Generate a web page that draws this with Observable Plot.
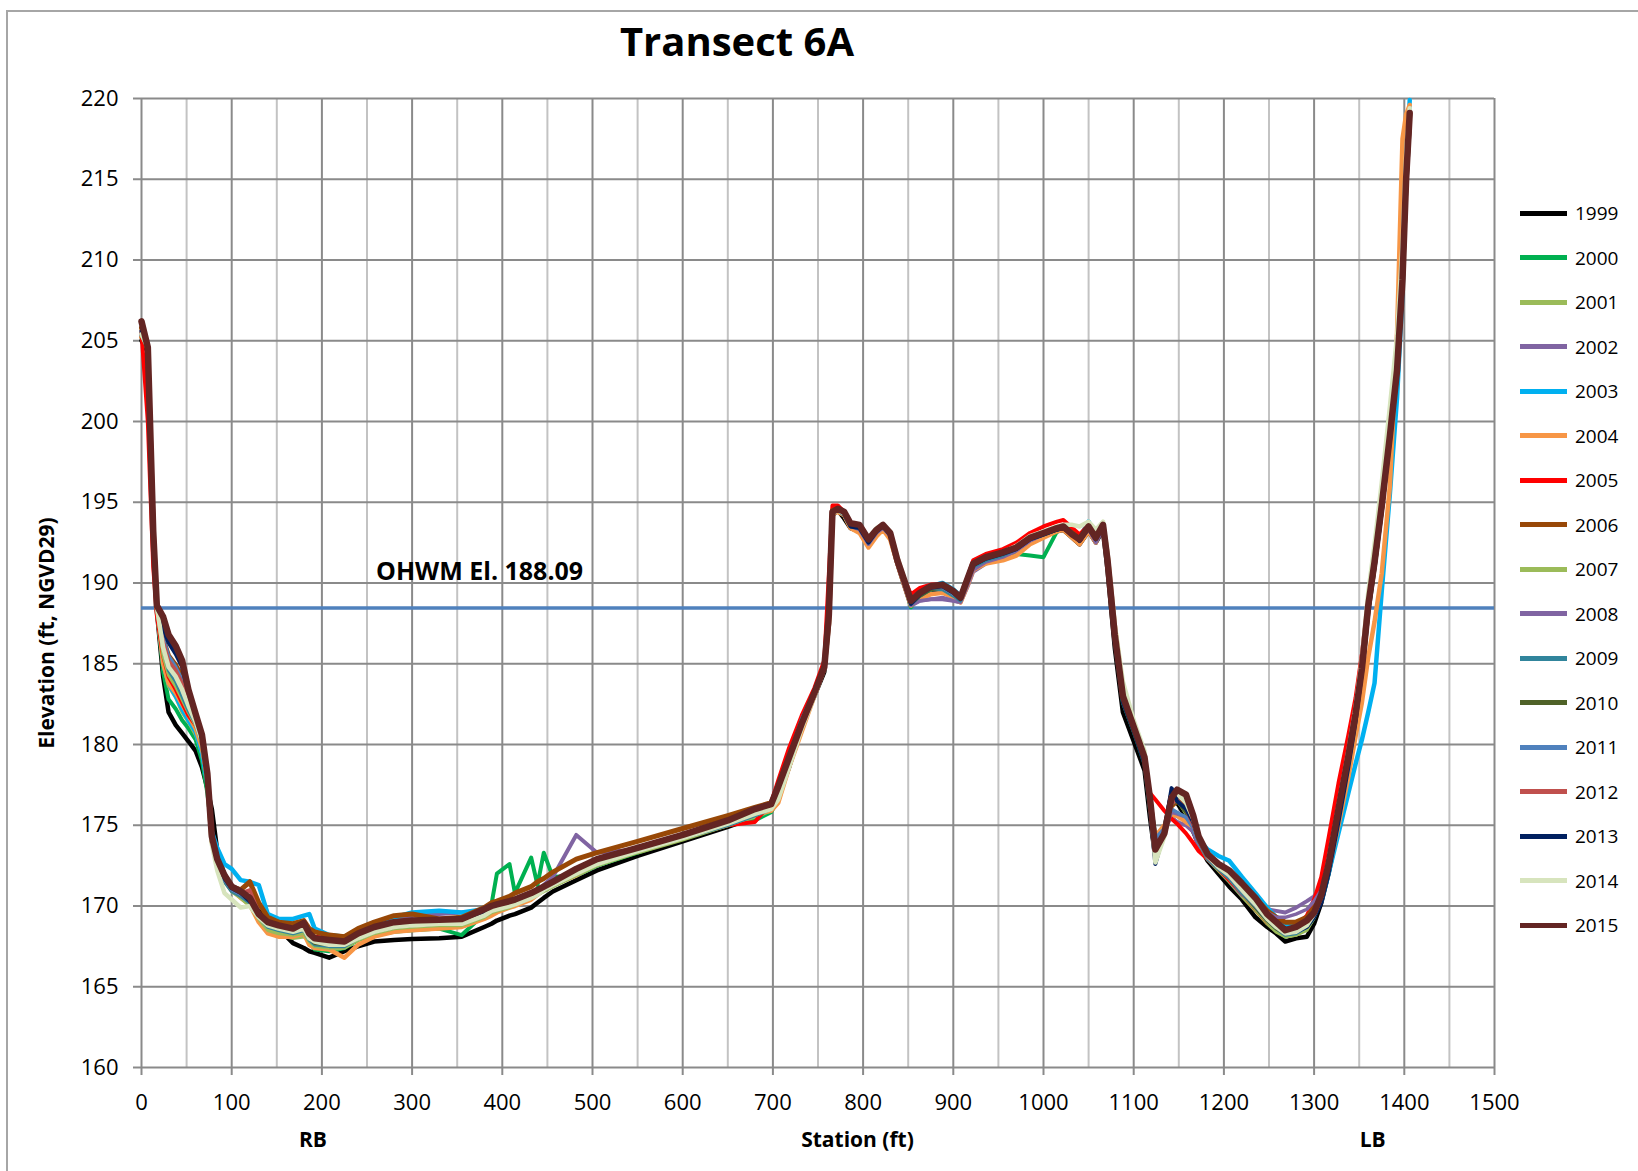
<!DOCTYPE html>
<html>
<head>
<meta charset="utf-8">
<script src="https://cdn.jsdelivr.net/npm/d3@7"></script>
<script src="https://cdn.jsdelivr.net/npm/@observablehq/plot@0.6"></script>
<style>
  html, body { margin: 0; padding: 0; background: #fff; overflow: hidden; }
  #wrap { position: relative; width: 1638px; height: 1171px; font-family: 'Open Sans', sans-serif; }
  #border { position: absolute; left: 6px; top: 10px; width: 1700px; height: 1300px;
            border-left: 2px solid #a6a6a6; border-top: 2px solid #a6a6a6; }
  #chart { position: absolute; left: 0; top: 0; }
  .lg-sw { position: absolute; left: 1520px; width: 47px; height: 5px; }
  .lg-tx { position: absolute; left: 1575px; font-size: 19px; line-height: 24px; color: #000; }
</style>
</head>
<body>
<div id="wrap"><div id="border"></div><div id="chart"></div><div id="legend"></div></div>
<script>
// ---------------- DATA ----------------
const stations = [
  0, 7, 13, 17, 24, 30, 38, 45, 52, 60,
  67, 73, 78, 84, 92, 100, 110, 120, 130, 140,
  152, 168, 180, 186, 192, 208, 225, 240, 258, 280,
  300, 330, 355, 380, 388, 394, 408, 414, 432, 439,
  446, 456, 482, 505, 550, 600, 650, 680, 698, 706,
  718, 732, 746, 757, 762, 766, 772, 779, 786, 796,
  806, 815, 822, 830, 838, 846, 853, 863, 875, 888,
  900, 908, 916, 922, 936, 955, 970, 985, 1000, 1015,
  1022, 1032, 1040, 1050, 1058, 1066, 1071, 1079, 1088, 1100,
  1112, 1118, 1124, 1134, 1142, 1148, 1158, 1166, 1172, 1182,
  1194, 1206, 1220, 1235, 1248, 1258, 1268, 1280, 1292, 1300,
  1308, 1316, 1327, 1338, 1346, 1353, 1360, 1367, 1375, 1384,
  1392, 1398, 1402, 1406
];

const years = [1999, 2000, 2001, 2002, 2003, 2004, 2005, 2006, 2007, 2008, 2009, 2010, 2011, 2012, 2013, 2014, 2015];

const elev1999 = [
  205.0, 204.3, 193.0, 188.3, 184.2, 182.0, 181.2, 180.7, 180.2, 179.6,
  178.6, 177.3, 176.0, 173.4, 171.8, 171.0, 170.6, 170.2, 169.7, 169.1,
  168.6, 167.7, 167.4, 167.2, 167.1, 166.8, 167.2, 167.5, 167.8, 167.9,
  167.95, 168.0, 168.1, 168.7, 168.9, 169.1, 169.4, 169.5, 169.9, 170.2,
  170.5, 170.9, 171.6, 172.2, 173.1, 174.0, 174.9, 175.5, 176.0, 176.8,
  178.6, 181.2, 183.0, 184.5, 189.0, 194.2, 194.5, 194.0, 193.4, 193.2,
  192.3, 193.0, 193.4, 192.9, 191.2, 189.8, 188.6, 189.1, 189.4, 189.5,
  189.2, 188.9, 190.0, 191.0, 191.3, 191.6, 192.0, 192.5, 192.9, 193.2,
  193.3, 192.8, 192.4, 193.2, 192.5, 193.3, 190.8, 186.0, 182.0, 180.2,
  178.4, 175.5, 173.0, 174.8, 177.0, 176.4, 175.5, 174.6, 173.8, 172.8,
  172.0, 171.2, 170.4, 169.3, 168.7, 168.3, 167.8, 168.0, 168.1, 168.9,
  170.2, 172.0, 175.0, 178.5, 181.3, 184.3, 188.2, 191.0, 194.5, 199.0,
  203.0, 208.5, 214.5, 218.5
];
const elev2000 = [
  205.2, 204.5, 193.3, 188.4, 184.5, 182.8, 182.2, 181.5, 181.0, 180.3,
  179.0, 177.0, 174.6, 173.2, 172.0, 171.2, 170.8, 170.3, 169.5, 168.6,
  168.3, 168.2, 168.3, 167.8, 167.3, 167.2, 167.4, 167.9, 168.2, 168.4,
  168.5, 168.6, 168.2, 169.5, 170.1, 172.0, 172.6, 170.8, 173.0, 171.3,
  173.3, 171.8, 171.9, 172.5, 173.3, 174.2, 175.0, 175.3, 175.8, 176.6,
  178.8, 181.2, 183.1, 184.8, 188.0, 194.5, 194.5, 194.2, 193.5, 193.4,
  192.5, 193.1, 193.5, 193.0, 191.3, 189.9, 188.5, 189.2, 189.6, 189.7,
  189.3, 189.0, 190.1, 191.1, 191.4, 191.7, 191.8, 191.7, 191.6, 193.2,
  193.4, 193.0, 192.6, 193.4, 192.6, 193.5, 191.0, 186.4, 182.6, 180.8,
  178.8, 176.0, 173.4, 174.8, 176.6, 176.6, 175.8, 175.0, 174.0, 172.9,
  172.3, 171.6, 170.7, 169.8, 169.0, 168.5, 168.1, 168.3, 168.6, 169.3,
  170.4, 172.3, 175.5, 178.8, 181.5, 184.5, 188.4, 191.2, 194.6, 199.0,
  203.1, 208.6, 214.8, 218.8
];
const elev2001 = [
  205.3, 204.5, 193.2, 188.5, 185.0, 183.6, 182.9, 182.0, 181.4, 180.6,
  179.4, 177.5, 174.5, 173.2, 172.0, 171.2, 170.7, 170.2, 169.4, 168.5,
  168.2, 168.0, 168.1, 167.9, 167.4, 167.3, 167.4, 167.9, 168.3, 168.5,
  168.6, 168.7, 168.8, 169.3, 169.6, 169.8, 170.0, 170.1, 170.5, 170.7,
  171.0, 171.3, 172.0, 172.6, 173.4, 174.2, 175.0, 175.5, 175.9, 176.8,
  178.9, 181.2, 183.1, 184.7, 188.0, 194.4, 194.5, 194.2, 193.5, 193.4,
  192.5, 193.2, 193.5, 193.0, 191.3, 189.9, 188.6, 189.2, 189.6, 189.7,
  189.3, 189.0, 190.2, 191.1, 191.5, 191.8, 192.1, 192.6, 193.0, 193.3,
  193.4, 193.0, 192.6, 193.4, 192.7, 193.5, 191.0, 186.4, 182.6, 180.8,
  178.9, 176.2, 173.3, 174.6, 176.5, 176.6, 175.7, 174.9, 173.9, 172.9,
  172.2, 171.5, 170.6, 169.7, 168.9, 168.4, 168.1, 168.2, 168.5, 169.3,
  170.4, 172.4, 175.6, 178.9, 181.6, 184.6, 188.5, 191.3, 194.7, 199.1,
  203.2, 208.7, 215.0, 219.0
];
const elev2002 = [
  205.4, 204.6, 193.5, 188.6, 185.2, 184.0, 183.2, 182.4, 181.6, 180.8,
  179.6, 177.8, 174.2, 172.8, 171.6, 171.0, 170.6, 170.4, 169.5, 168.9,
  168.6, 168.5, 168.6, 168.0, 167.6, 167.5, 167.6, 168.2, 169.0, 169.2,
  169.4, 169.5, 169.6, 169.7, 169.8, 169.9, 170.1, 170.2, 170.6, 170.9,
  171.3, 171.8, 174.4, 173.3, 173.5, 174.3, 175.1, 175.7, 176.1, 177.0,
  179.6, 181.6, 183.3, 184.9, 188.5, 194.4, 194.5, 194.2, 193.5, 193.3,
  192.4, 193.1, 193.4, 192.9, 191.2, 189.8, 188.6, 188.9, 189.0, 189.0,
  188.9, 188.8, 189.8, 190.7, 191.2, 191.6, 192.0, 192.6, 193.0, 193.3,
  193.4, 193.0, 192.6, 193.4, 192.6, 193.3, 191.0, 186.5, 182.8, 181.0,
  178.9, 176.3, 174.0, 174.8, 175.5, 175.2, 175.0, 174.6, 173.7, 172.9,
  172.3, 171.6, 170.7, 170.2, 169.8, 169.7, 169.6, 169.9, 170.3, 170.6,
  171.2, 172.8, 175.8, 179.0, 181.6, 184.6, 188.4, 191.3, 194.7, 199.1,
  203.2, 208.8, 215.2, 219.3
];
const elev2003 = [
  205.3, 204.6, 193.4, 188.5, 185.0, 183.8, 183.0, 182.2, 181.5, 180.8,
  179.5, 177.6, 174.6, 173.6, 172.6, 172.3, 171.6, 171.5, 171.3, 169.5,
  169.2, 169.2, 169.4, 169.5, 168.6, 168.2, 168.1, 168.5, 168.9, 169.3,
  169.6, 169.7, 169.6, 169.8, 170.0, 170.1, 170.3, 170.4, 170.7, 170.9,
  171.1, 171.4, 172.1, 172.7, 173.4, 174.2, 175.1, 175.7, 176.1, 177.0,
  179.1, 181.3, 183.2, 184.8, 188.5, 194.5, 194.6, 194.3, 193.6, 193.5,
  192.6, 193.2, 193.5, 193.0, 191.3, 190.0, 188.8, 189.3, 189.8, 190.0,
  189.6, 189.2, 190.3, 191.1, 191.5, 191.8, 192.1, 192.7, 193.0, 193.3,
  193.4, 193.1, 192.8, 193.8, 193.0, 193.7, 191.5, 187.2, 183.4, 181.3,
  179.1, 176.5, 174.3, 174.9, 175.9, 175.6, 175.3, 174.9, 174.1, 173.5,
  173.1, 172.8, 171.8, 170.8, 169.9, 169.3, 168.8, 168.9, 169.2, 169.6,
  170.3, 172.0, 174.5, 177.0, 178.8, 180.3, 182.0, 183.8, 189.5, 195.5,
  201.5, 208.0, 215.5, 219.9
];
const elev2004 = [
  205.2, 204.5, 193.2, 188.4, 185.0, 183.8, 183.2, 182.5, 181.8, 181.0,
  179.8, 178.0, 174.0, 172.8, 171.8, 171.0, 170.5, 170.1, 169.0, 168.3,
  168.1, 168.1, 168.3, 167.6, 167.4, 167.3, 166.8, 167.6, 168.1, 168.4,
  168.5, 168.6, 168.7, 169.2, 169.4, 169.6, 169.9, 170.0, 170.4, 170.7,
  171.0, 171.3, 171.9, 172.6, 173.4, 174.3, 175.2, 175.7, 175.9, 176.4,
  178.6, 180.8, 183.0, 184.7, 188.0, 194.3, 194.4, 194.2, 193.4, 193.1,
  192.2, 192.9, 193.3, 192.7, 191.2, 189.8, 188.6, 189.0, 189.3, 189.4,
  189.1, 188.8, 189.9, 190.8, 191.2, 191.4, 191.7, 192.4, 192.8, 193.2,
  193.3, 192.8, 192.4, 193.2, 192.5, 193.7, 191.8, 187.4, 183.6, 181.3,
  179.2, 176.2, 174.3, 175.0, 175.6, 175.6, 175.2, 174.9, 174.3, 173.3,
  172.6, 172.1, 171.2, 170.3, 169.4, 168.9, 168.4, 168.5, 168.8, 169.4,
  170.5, 172.2, 175.0, 178.0, 180.5, 182.6, 185.4, 187.6, 190.6, 196.0,
  205.5, 217.5, 219.0, 219.6
];
const elev2005 = [
  205.5, 200.0, 191.0, 188.0, 185.5, 184.2, 183.4, 182.6, 181.8, 181.2,
  180.3, 178.4, 174.4, 173.0, 171.9, 171.1, 170.7, 170.2, 169.3, 168.8,
  168.6, 168.4, 168.6, 168.1, 168.1, 168.0, 167.9, 168.2, 168.5, 168.8,
  168.9, 169.0, 169.0, 169.4, 169.7, 169.9, 170.1, 170.2, 170.6, 170.8,
  171.1, 171.4, 172.1, 172.7, 173.4, 174.2, 175.0, 175.2, 176.4, 177.8,
  179.8, 181.8, 183.5, 185.2, 190.5, 194.8, 194.8, 194.4, 193.6, 193.5,
  192.6, 193.3, 193.6, 193.1, 191.5, 190.2, 189.3, 189.7, 189.9, 189.9,
  189.5, 189.2, 190.4, 191.4, 191.8, 192.1, 192.5, 193.1, 193.5, 193.8,
  193.9, 193.4, 193.0, 193.6, 192.8, 193.4, 191.2, 186.6, 183.0, 181.0,
  179.0, 177.0, 176.6, 175.9, 175.4, 175.1, 174.5, 173.9, 173.4, 172.9,
  172.3, 171.6, 170.8, 169.8, 169.0, 168.6, 168.4, 168.8, 169.4, 170.4,
  171.8, 174.2, 177.6, 180.6, 182.9, 185.6, 189.0, 191.8, 195.0, 199.2,
  203.3, 208.9, 215.0, 219.0
];
const elev2006 = [
  205.8, 204.4, 193.3, 188.5, 186.5, 185.5, 184.9, 184.2, 182.9, 181.6,
  180.3, 178.0, 174.0, 172.8, 171.8, 171.2, 171.0, 171.5, 170.2, 169.3,
  169.0, 168.9, 169.1, 168.6, 168.4, 168.2, 168.1, 168.6, 169.0, 169.4,
  169.5, 169.2, 169.3, 169.9, 170.2, 170.3, 170.6, 170.8, 171.2, 171.5,
  171.7, 172.1, 172.9, 173.3, 174.0, 174.8, 175.6, 176.1, 176.4, 177.3,
  179.3, 181.3, 183.2, 184.8, 187.5, 194.5, 194.6, 194.3, 193.6, 193.5,
  192.6, 193.2, 193.5, 193.1, 191.4, 190.1, 188.9, 189.4, 189.8, 189.8,
  189.4, 189.1, 190.3, 191.2, 191.6, 191.8, 192.2, 192.8, 193.1, 193.4,
  193.5, 193.1, 192.7, 193.5, 192.9, 193.6, 191.3, 186.7, 183.2, 181.1,
  179.1, 176.6, 174.0, 174.5, 176.2, 176.5, 176.2, 175.3, 174.2, 173.2,
  172.6, 172.2, 171.3, 170.5, 169.7, 169.3, 169.0, 169.0, 169.3, 169.9,
  170.8, 172.6, 175.8, 179.1, 181.8, 184.6, 188.5, 191.2, 194.7, 199.0,
  203.1, 208.7, 215.0, 219.0
];
const elev2007 = [
  205.3, 204.5, 193.3, 188.5, 185.5, 184.3, 183.6, 182.8, 182.0, 181.2,
  180.0, 177.8, 174.0, 172.6, 171.5, 170.9, 170.5, 170.0, 169.2, 168.5,
  168.3, 168.2, 168.3, 167.8, 167.5, 167.4, 167.5, 167.9, 168.3, 168.6,
  168.7, 168.8, 168.8, 169.3, 169.6, 169.7, 169.9, 170.1, 170.5, 170.7,
  170.9, 171.2, 171.9, 172.5, 173.3, 174.1, 175.0, 175.6, 176.0, 177.0,
  179.0, 181.2, 183.1, 184.7, 188.0, 194.4, 194.5, 194.2, 193.5, 193.4,
  192.5, 193.2, 193.5, 193.0, 191.3, 189.9, 188.6, 189.2, 189.6, 189.7,
  189.3, 189.0, 190.2, 191.1, 191.5, 191.8, 192.1, 192.7, 193.0, 193.3,
  193.4, 193.0, 192.6, 193.4, 192.7, 193.5, 191.1, 186.5, 182.8, 180.9,
  179.0, 176.3, 173.4, 174.6, 176.4, 176.6, 175.8, 174.9, 173.9, 172.9,
  172.3, 171.7, 170.8, 169.8, 169.0, 168.5, 168.1, 168.2, 168.6, 169.3,
  170.5, 172.4, 175.6, 178.9, 181.6, 184.6, 188.5, 191.3, 194.7, 199.1,
  203.2, 208.7, 215.0, 219.0
];
const elev2008 = [
  205.4, 204.5, 193.4, 188.5, 186.0, 184.8, 184.0, 183.2, 182.2, 181.3,
  180.1, 178.0, 174.1, 172.7, 171.6, 171.0, 170.6, 170.3, 169.4, 168.8,
  168.6, 168.4, 168.6, 168.0, 167.7, 167.6, 167.6, 168.1, 168.6, 169.0,
  169.1, 169.1, 169.2, 169.6, 169.8, 169.9, 170.1, 170.2, 170.6, 170.8,
  171.0, 171.3, 172.1, 172.7, 173.5, 174.3, 175.1, 175.7, 176.1, 177.1,
  179.4, 181.5, 183.2, 184.8, 188.0, 194.4, 194.5, 194.2, 193.5, 193.3,
  192.4, 193.1, 193.4, 192.9, 191.2, 189.8, 188.6, 188.9, 189.0, 189.1,
  188.9, 188.8, 189.9, 190.8, 191.3, 191.6, 192.0, 192.6, 193.0, 193.3,
  193.4, 193.0, 192.6, 193.3, 192.5, 193.3, 191.0, 186.5, 182.9, 181.0,
  179.0, 176.3, 173.8, 174.7, 175.8, 175.7, 175.5, 174.9, 174.0, 173.1,
  172.5, 172.0, 171.1, 170.3, 169.6, 169.3, 169.3, 169.5, 169.8, 170.3,
  171.0, 172.8, 175.8, 179.0, 181.6, 184.6, 188.4, 191.2, 194.7, 199.1,
  203.2, 208.8, 215.1, 219.2
];
const elev2009 = [
  205.5, 204.5, 193.4, 188.5, 186.0, 184.6, 183.9, 183.0, 182.1, 181.3,
  180.1, 178.0, 174.0, 172.6, 171.5, 170.9, 170.6, 170.2, 169.3, 168.7,
  168.5, 168.3, 168.5, 167.9, 167.6, 167.5, 167.5, 168.0, 168.4, 168.7,
  168.8, 168.9, 168.9, 169.4, 169.7, 169.8, 170.0, 170.1, 170.5, 170.7,
  171.0, 171.3, 172.0, 172.6, 173.4, 174.2, 175.0, 175.6, 176.0, 177.0,
  179.1, 181.3, 183.1, 184.7, 188.2, 194.4, 194.5, 194.2, 193.5, 193.4,
  192.5, 193.2, 193.5, 193.0, 191.3, 190.0, 188.7, 189.2, 189.6, 189.6,
  189.2, 188.9, 190.1, 191.0, 191.4, 191.7, 192.1, 192.7, 193.0, 193.3,
  193.4, 193.0, 192.6, 193.5, 192.7, 193.4, 191.1, 186.5, 182.9, 180.9,
  178.9, 176.3, 173.4, 174.6, 176.4, 176.6, 175.8, 174.9, 173.9, 172.9,
  172.3, 171.7, 170.8, 169.9, 169.1, 168.6, 168.2, 168.3, 168.7, 169.4,
  170.5, 172.4, 175.6, 178.9, 181.6, 184.6, 188.5, 191.3, 194.7, 199.1,
  203.2, 208.7, 215.0, 219.0
];
const elev2010 = [
  205.5, 204.6, 193.5, 188.5, 186.3, 184.9, 184.3, 183.5, 182.4, 181.4,
  180.2, 178.0, 174.1, 172.7, 171.6, 171.0, 170.7, 170.3, 169.3, 168.8,
  168.6, 168.4, 168.6, 168.0, 167.7, 167.6, 167.6, 168.0, 168.4, 168.7,
  168.8, 168.9, 168.9, 169.5, 169.8, 169.9, 170.1, 170.2, 170.6, 170.8,
  171.0, 171.3, 172.1, 172.7, 173.5, 174.3, 175.1, 175.7, 176.1, 177.1,
  179.2, 181.3, 183.2, 184.8, 188.0, 194.4, 194.5, 194.3, 193.6, 193.4,
  192.6, 193.2, 193.5, 193.0, 191.3, 190.0, 188.7, 189.2, 189.6, 189.7,
  189.3, 189.0, 190.2, 191.1, 191.5, 191.8, 192.1, 192.7, 193.0, 193.3,
  193.4, 193.0, 192.6, 193.4, 192.7, 193.5, 191.2, 187.0, 183.4, 181.1,
  179.1, 176.4, 173.6, 174.6, 176.3, 176.5, 175.8, 174.9, 174.0, 173.0,
  172.4, 171.8, 170.9, 169.9, 169.1, 168.6, 168.3, 168.4, 168.8, 169.5,
  170.6, 172.5, 175.7, 179.0, 181.7, 184.7, 188.5, 191.3, 194.7, 199.1,
  203.2, 208.7, 215.0, 219.0
];
const elev2011 = [
  205.6, 204.6, 193.6, 188.5, 186.6, 185.5, 184.8, 184.0, 182.8, 181.6,
  180.4, 178.1, 174.0, 172.6, 171.6, 171.0, 170.7, 170.3, 169.4, 168.9,
  168.7, 168.5, 168.7, 168.1, 167.8, 167.7, 167.7, 168.1, 168.5, 168.8,
  168.9, 169.0, 169.0, 169.5, 169.8, 169.9, 170.1, 170.2, 170.6, 170.8,
  171.1, 171.4, 172.1, 172.7, 173.5, 174.3, 175.1, 175.7, 176.1, 177.2,
  179.2, 181.6, 183.3, 184.9, 188.0, 194.4, 194.5, 194.3, 193.6, 193.4,
  192.6, 193.2, 193.5, 193.0, 191.3, 190.0, 188.7, 189.3, 189.7, 189.7,
  189.3, 189.0, 190.2, 191.1, 191.5, 191.8, 192.1, 192.7, 193.0, 193.3,
  193.4, 193.0, 192.6, 193.4, 192.7, 193.5, 191.2, 187.0, 183.4, 181.1,
  179.1, 176.4, 174.2, 174.8, 176.0, 175.8, 175.5, 174.8, 173.9, 173.0,
  172.4, 171.8, 170.9, 170.0, 169.2, 168.8, 168.5, 168.6, 168.9, 169.5,
  170.6, 172.5, 175.7, 179.0, 181.7, 184.7, 188.5, 191.3, 194.7, 199.1,
  203.2, 208.7, 215.0, 219.0
];
const elev2012 = [
  205.6, 204.6, 193.5, 188.5, 186.4, 185.2, 184.6, 183.8, 182.7, 181.6,
  180.4, 178.1, 174.2, 172.8, 171.7, 171.1, 170.8, 171.0, 169.6, 169.0,
  168.8, 168.6, 168.8, 168.1, 167.9, 167.8, 167.8, 168.1, 168.5, 168.8,
  168.9, 169.0, 169.0, 169.6, 169.8, 169.9, 170.1, 170.2, 170.6, 170.8,
  171.1, 171.4, 172.1, 172.7, 173.5, 174.3, 175.1, 175.8, 176.2, 177.3,
  179.3, 181.4, 183.3, 184.9, 188.0, 194.5, 194.6, 194.3, 193.6, 193.5,
  192.6, 193.2, 193.5, 193.0, 191.3, 190.0, 188.8, 189.3, 189.7, 189.8,
  189.4, 189.1, 190.2, 191.2, 191.6, 191.8, 192.2, 192.8, 193.1, 193.4,
  193.5, 193.0, 192.7, 193.5, 192.8, 193.6, 191.3, 186.8, 183.2, 181.1,
  179.1, 176.5, 173.6, 174.4, 176.3, 176.6, 176.0, 175.0, 174.0, 173.0,
  172.4, 171.9, 171.0, 170.1, 169.3, 168.8, 168.4, 168.6, 169.0, 169.6,
  170.7, 172.6, 175.8, 179.1, 181.7, 184.7, 188.5, 191.3, 194.8, 199.1,
  203.2, 208.8, 215.0, 219.0
];
const elev2013 = [
  205.6, 204.5, 193.4, 188.5, 187.2, 186.3, 185.6, 184.8, 183.2, 181.8,
  180.5, 178.2, 174.0, 172.7, 171.7, 171.1, 170.8, 170.3, 169.4, 168.9,
  168.7, 168.5, 168.8, 168.1, 167.9, 167.8, 167.7, 168.2, 168.6, 168.9,
  169.0, 169.0, 169.1, 169.6, 169.9, 170.0, 170.2, 170.3, 170.7, 170.9,
  171.1, 171.4, 172.2, 172.8, 173.6, 174.4, 175.2, 175.8, 176.2, 177.0,
  178.8, 181.1, 183.1, 184.8, 188.0, 194.4, 194.5, 194.3, 193.5, 193.4,
  192.5, 193.2, 193.5, 193.0, 191.3, 190.0, 188.7, 189.3, 189.7, 189.8,
  189.4, 189.0, 190.2, 191.1, 191.5, 191.8, 192.1, 192.7, 193.0, 193.3,
  193.4, 193.0, 192.6, 193.4, 192.7, 193.5, 191.0, 186.3, 182.6, 180.8,
  178.8, 176.0, 172.6, 174.6, 177.3, 176.5, 176.0, 175.2, 174.1, 173.1,
  172.5, 172.0, 171.0, 170.1, 169.2, 168.7, 168.3, 168.4, 168.7, 169.3,
  170.2, 172.0, 175.2, 178.6, 181.4, 184.5, 188.5, 191.3, 194.7, 199.2,
  203.4, 209.0, 215.2, 219.2
];
const elev2014 = [
  205.4, 204.6, 193.4, 188.5, 186.0, 184.8, 184.2, 183.4, 182.4, 181.4,
  180.2, 177.8, 173.8, 172.2, 170.8, 170.4, 169.9, 170.0, 169.3, 168.8,
  168.6, 168.4, 168.6, 168.0, 167.8, 167.6, 167.6, 168.0, 168.4, 168.7,
  168.8, 168.9, 168.9, 169.4, 169.7, 169.8, 170.0, 170.1, 170.5, 170.7,
  171.0, 171.3, 172.0, 172.6, 173.4, 174.2, 175.1, 175.7, 176.0, 176.6,
  178.6, 181.0, 183.0, 184.7, 188.0, 194.3, 194.5, 194.3, 193.7, 193.6,
  192.8, 193.4, 193.6, 193.2, 191.6, 190.2, 189.0, 189.4, 189.8, 189.9,
  189.5, 189.1, 190.3, 191.2, 191.6, 191.9, 192.3, 192.9, 193.2, 193.5,
  193.6, 193.6, 193.5, 193.8, 193.3, 193.8, 191.8, 187.4, 183.9, 181.5,
  179.6, 176.6, 172.7, 174.3, 176.8, 177.0, 176.4, 175.4, 174.2, 173.1,
  172.4, 171.9, 171.0, 170.1, 169.2, 168.7, 168.3, 168.4, 168.8, 169.5,
  170.6, 172.8, 176.2, 179.6, 182.3, 185.3, 189.4, 192.4, 196.2, 200.9,
  205.3, 211.0, 216.5, 219.4
];
const elev2015 = [
  206.2, 204.6, 193.2, 188.6, 187.9, 186.8, 186.1, 185.2, 183.4, 181.9,
  180.6, 178.2, 174.3, 172.9, 171.9, 171.2, 170.9, 170.5, 169.5, 169.0,
  168.8, 168.6, 168.95, 168.3, 168.0, 167.9, 167.8, 168.3, 168.7, 169.0,
  169.1, 169.15, 169.2, 169.8, 170.0, 170.1, 170.3, 170.4, 170.8, 171.0,
  171.2, 171.5, 172.3, 172.9, 173.6, 174.4, 175.3, 176.0, 176.3, 177.4,
  179.2, 181.3, 183.2, 184.8, 188.0, 194.4, 194.6, 194.4, 193.7, 193.6,
  192.7, 193.3, 193.6, 193.1, 191.4, 190.1, 188.9, 189.4, 189.8, 189.9,
  189.5, 189.1, 190.3, 191.2, 191.6, 191.9, 192.2, 192.8, 193.1, 193.4,
  193.5, 193.0, 192.7, 193.5, 192.8, 193.6, 191.4, 186.8, 183.0, 181.1,
  179.2, 176.7, 173.5, 174.5, 176.7, 177.2, 176.9, 175.6, 174.3, 173.2,
  172.6, 172.2, 171.4, 170.5, 169.5, 169.0, 168.5, 168.7, 169.1, 169.6,
  170.7, 172.6, 176.0, 179.3, 181.9, 184.7, 188.6, 191.3, 194.8, 199.1,
  203.2, 208.8, 215.0, 219.1
];

const series = [elev1999, elev2000, elev2001, elev2002, elev2003, elev2004, elev2005, elev2006,
  elev2007, elev2008, elev2009, elev2010, elev2011, elev2012, elev2013, elev2014, elev2015];

const xTicks = [0, 100, 200, 300, 400, 500, 600, 700, 800, 900, 1000, 1100, 1200, 1300, 1400, 1500];
const xMinor = [50, 150, 250, 350, 450, 550, 650, 750, 850, 950, 1050, 1150, 1250, 1350, 1450];
const yTicks = [160, 165, 170, 175, 180, 185, 190, 195, 200, 205, 210, 215, 220];

const ohwmLabel = "OHWM El. 188.09";
const ohwmLine = 188.45;   // level at which the reference draws its OHWM line

// ---------------- STYLES ----------------
const colors = ["#000000", "#00b050", "#9bbb59", "#8064a2", "#00b0f0", "#f79646", "#ff0000", "#984807",
  "#9bbb59", "#8064a2", "#31859c", "#4f6228", "#4f81bd", "#c0504d", "#002060", "#d7e4bd", "#632523"];
const widths = [4.5, 4, 3.5, 4, 4.5, 4.5, 4, 5, 3.5, 3.5, 3.5, 3.5, 3.5, 3.5, 4, 4.5, 6.5];

// ---------------- BUILD ----------------
const bad = series.map((s, i) => s.length !== stations.length ? years[i] + ":" + s.length : null).filter(Boolean);
if (bad.length) throw new Error("length mismatch " + bad.join(", ") + " vs " + stations.length);

const rows = years.map((yr, i) => stations.map((s, j) => ({year: yr, station: s, elevation: series[i][j]})));

const gridDark = "#8a8a8a", gridLight = "#c3c3c3";

const chart = Plot.plot({
  width: 1638, height: 1171,
  marginLeft: 141, marginRight: 144, marginTop: 98, marginBottom: 104,
  x: {domain: [0, 1500]},
  y: {domain: [160, 220]},
  style: {fontFamily: "'Open Sans', sans-serif", fontSize: "22px", color: "#000", background: "transparent", overflow: "visible"},
  marks: [
    Plot.ruleX(xMinor, {stroke: gridLight, strokeWidth: 2}),
    Plot.ruleX(xTicks, {stroke: gridDark, strokeWidth: 2}),
    Plot.ruleY(yTicks, {stroke: gridDark, strokeWidth: 2}),
    Plot.axisX({ticks: xTicks, tickSize: 8, tickPadding: 19, stroke: gridDark, strokeWidth: 2, fill: "#000",
      fontSize: 22, label: null, tickFormat: d => String(d)}),
    Plot.axisY({ticks: yTicks, tickSize: 8, tickPadding: 15, stroke: gridDark, strokeWidth: 2, fill: "#000",
      fontSize: 22, label: null, tickFormat: d => String(d)}),
    Plot.ruleY([ohwmLine], {stroke: "#4f81bd", strokeWidth: 3.5}),
    ...rows.map((r, i) => Plot.line(r, {x: "station", y: "elevation", stroke: colors[i], strokeWidth: widths[i],
      strokeLinejoin: "round", strokeLinecap: "round"})),
    Plot.text([ohwmLabel], {x: [260], y: [190.7], text: d => d, textAnchor: "start", lineAnchor: "middle", fontWeight: "bold", fontSize: 25}),
    Plot.text(["Transect 6A"], {frameAnchor: "top", lineAnchor: "middle", textAnchor: "middle", dx: -81, dy: -55, fontSize: 40, fontWeight: "bold"}),
    Plot.text(["Elevation (ft, NGVD29)"], {frameAnchor: "left", textAnchor: "middle", lineAnchor: "middle", rotate: -90, dx: -94, dy: 50, fontSize: 21, fontWeight: "bold"}),
    Plot.text(["Station (ft)"], {frameAnchor: "bottom", textAnchor: "middle", lineAnchor: "middle", dx: 39.5, dy: 73, fontSize: 21, fontWeight: "bold"}),
    Plot.text(["RB"], {x: [190], frameAnchor: "bottom", textAnchor: "middle", lineAnchor: "middle", dy: 73, fontSize: 21, fontWeight: "bold"}),
    Plot.text(["LB"], {x: [1365], frameAnchor: "bottom", textAnchor: "middle", lineAnchor: "middle", dy: 73, fontSize: 21, fontWeight: "bold"})
  ]
});
document.getElementById("chart").appendChild(chart);

// legend
const legend = document.getElementById("legend");
years.forEach((yr, i) => {
  const cy = 213 + i * 44.5;
  const sw = document.createElement("div");
  sw.className = "lg-sw";
  sw.style.top = (cy - 2.5) + "px";
  sw.style.background = colors[i];
  const tx = document.createElement("div");
  tx.className = "lg-tx";
  tx.style.top = (cy - 12) + "px";
  tx.textContent = String(yr);
  legend.appendChild(sw);
  legend.appendChild(tx);
});
</script>
</body>
</html>
